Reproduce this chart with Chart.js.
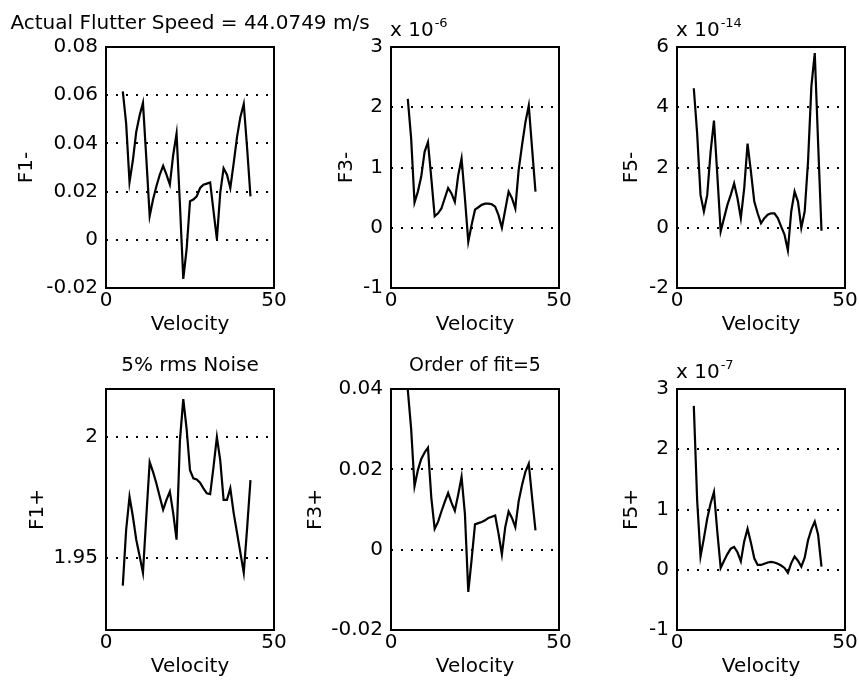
<!DOCTYPE html>
<html>
<head>
<meta charset="utf-8">
<script src="https://cdn.jsdelivr.net/npm/chart.js@4.4.1/dist/chart.umd.min.js"></script>
<style>
    body { margin: 0; background: #fff; }
    #page { position: relative; width: 859px; height: 683px; overflow: hidden; background: #fff; }
    #page canvas { position: absolute; }
</style>
</head>
<body>
<div id="page"></div>
<script>
// velocity (m/s) shared by all six plots
var velocity = [5, 6, 7, 8, 9, 10, 11, 12, 13, 14, 15, 16, 17, 18, 19, 20, 21, 22, 23, 24,
    25, 26, 27, 28, 29, 30, 31, 32, 33, 34, 35, 36, 37, 38, 39, 40, 41, 42, 43];

var f1Minus = [0.0616, 0.0482, 0.024, 0.033, 0.0448, 0.0516, 0.0568, 0.0338, 0.0099, 0.0167,
    0.0222, 0.027, 0.0307, 0.027, 0.0229, 0.0352, 0.0441, 0.0147, -0.0162, -0.0038,
    0.016, 0.0167, 0.018, 0.0215, 0.0229, 0.0233, 0.0238, 0.0119, 0.0003, 0.0195,
    0.0297, 0.027, 0.0215, 0.0318, 0.0427, 0.051, 0.0564, 0.038, 0.018];

// x 10^-6
var f3Minus = [2.14, 1.48, 0.42, 0.6, 0.85, 1.26, 1.42, 0.82, 0.19, 0.24,
    0.32, 0.49, 0.66, 0.57, 0.43, 0.87, 1.15, 0.49, -0.23, 0.05,
    0.3, 0.34, 0.38, 0.4, 0.4, 0.39, 0.35, 0.21, 0.0, 0.3,
    0.6, 0.49, 0.32, 0.96, 1.37, 1.75, 2.03, 1.31, 0.6];

// x 10^-14
var f5Minus = [4.63, 3.12, 1.09, 0.54, 1.09, 2.52, 3.56, 1.75, -0.12, 0.32,
    0.76, 1.09, 1.47, 0.98, 0.32, 1.31, 2.79, 1.86, 0.87, 0.48,
    0.15, 0.32, 0.43, 0.48, 0.48, 0.32, 0.04, -0.23, -0.75, 0.54,
    1.2, 0.87, 0.0, 0.54, 2.2, 4.7, 5.8, 2.8, -0.1];

var f1Plus = [1.9384, 1.9616, 1.9753, 1.9671, 1.9575, 1.9507, 1.9438, 1.9671, 1.9897, 1.9856,
    1.9808, 1.9753, 1.9699, 1.974, 1.9774, 1.9685, 1.9575, 1.9986, 2.0158, 2.0034,
    1.9863, 1.9829, 1.9825, 1.9811, 1.9788, 1.9767, 1.9764, 1.9877, 2.0, 1.9904,
    1.974, 1.974, 1.9788, 1.9685, 1.9603, 1.952, 1.9438, 1.9623, 1.9822];

var f3Plus = [0.0398, 0.030, 0.0158, 0.0198, 0.0226, 0.0242, 0.0254, 0.0129, 0.0052, 0.0069,
    0.0095, 0.0119, 0.0141, 0.0117, 0.0097, 0.0137, 0.0181, 0.0089, -0.0105, -0.0024,
    0.0063, 0.0066, 0.0069, 0.0073, 0.0079, 0.0082, 0.0085, 0.0040, -0.0012, 0.0056,
    0.0095, 0.0079, 0.0056, 0.0121, 0.0161, 0.0194, 0.0214, 0.0129, 0.0048];

// x 10^-7
var f5Plus = [2.72, 1.15, 0.22, 0.52, 0.85, 1.1, 1.29, 0.63, 0.03, 0.15,
    0.26, 0.35, 0.38, 0.29, 0.14, 0.47, 0.68, 0.45, 0.19, 0.08,
    0.08, 0.1, 0.12, 0.13, 0.12, 0.1, 0.07, 0.03, -0.05, 0.11,
    0.22, 0.15, 0.05, 0.2, 0.49, 0.67, 0.8, 0.58, 0.05];

// tick labels
var xTicks = [0, 50];
var f1MinusTicks = [-0.02, 0, 0.02, 0.04, 0.06, 0.08];
var f3MinusTicks = [-1, 0, 1, 2, 3];
var f5MinusTicks = [-2, 0, 2, 4, 6];
var f1PlusTicks = [1.95, 2];
var f3PlusTicks = [-0.02, 0, 0.02, 0.04];
var f5PlusTicks = [-1, 0, 1, 2, 3];

var FONT = '"DejaVu Sans", sans-serif';
Chart.defaults.font.family = FONT;
Chart.defaults.font.size = 20;
Chart.defaults.color = '#000';

// black frame round each plot area
var boxPlugin = {
    id: 'boxFrame',
    afterDraw: function (chart) {
        var a = chart.chartArea;
        var ctx = chart.ctx;
        ctx.save();
        ctx.strokeStyle = '#000';
        ctx.lineWidth = 2;
        ctx.strokeRect(a.left, a.top, a.right - a.left, a.bottom - a.top);
        ctx.restore();
    }
};

// title above the plot and the "x 10^n" multiplier
var panelText = {
    id: 'panelText',
    afterDraw: function (chart, args, opts) {
        var a = chart.chartArea;
        var ctx = chart.ctx;
        ctx.save();
        ctx.fillStyle = '#000';
        ctx.textBaseline = 'alphabetic';
        if (opts.title) {
            ctx.font = opts.titleSize + 'px ' + FONT;
            ctx.textAlign = 'center';
            ctx.fillText(opts.title, (a.left + a.right) / 2, a.top - 18);
        }
        if (opts.exponent) {
            ctx.font = '20px ' + FONT;
            ctx.textAlign = 'left';
            var base = 'x 10';
            ctx.fillText(base, a.left - 1, a.top - 11);
            var w = ctx.measureText(base).width;
            ctx.font = '13px ' + FONT;
            ctx.fillText(opts.exponent, a.left + w, a.top - 20);
        }
        ctx.restore();
    }
};

var panels = [
    { values: f1Minus, ticks: f1MinusTicks, yMin: -0.02, yMax: 0.08, yLabel: 'F1-', labelPad: 15,
      title: 'Actual Flutter Speed = 44.0749 m/s', titleSize: 20, exponent: null, left: 0, top: 0, height: 341, padTop: 47, padRight: 120 },
    { values: f3Minus, ticks: f3MinusTicks, yMin: -1, yMax: 3, yLabel: 'F3-', labelPad: 50,
      title: null, exponent: '-6', left: 285, top: 0, height: 341, padTop: 47, padRight: 14 },
    { values: f5Minus, ticks: f5MinusTicks, yMin: -2, yMax: 6, yLabel: 'F5-', labelPad: 49,
      title: null, exponent: '-14', left: 571, top: 0, height: 341, padTop: 47, padRight: 14 },
    { values: f1Plus, ticks: f1PlusTicks, yMin: 1.92, yMax: 2.02, yLabel: 'F1+', labelPad: 26,
      title: '5% rms Noise', titleSize: 20, exponent: null, left: 0, top: 341, height: 342, padTop: 48, padRight: 14 },
    { values: f3Plus, ticks: f3PlusTicks, yMin: -0.02, yMax: 0.04, yLabel: 'F3+', labelPad: 19,
      title: 'Order of fit=5', titleSize: 19, exponent: null, left: 285, top: 341, height: 342, padTop: 48, padRight: 14 },
    { values: f5Plus, ticks: f5PlusTicks, yMin: -1, yMax: 3, yLabel: 'F5+', labelPad: 49,
      title: null, exponent: '-7', left: 571, top: 341, height: 342, padTop: 48, padRight: 14 }
];

function drawPanel(p) {
    var canvas = document.createElement('canvas');
    var width = 106 + 168 + p.padRight;
    canvas.width = width;
    canvas.height = p.height;
    canvas.style.left = p.left + 'px';
    canvas.style.top = p.top + 'px';
    canvas.style.width = width + 'px';
    canvas.style.height = p.height + 'px';
    document.getElementById('page').appendChild(canvas);

    var points = velocity.map(function (v, i) {
        return { x: v, y: p.values[i] };
    });

    new Chart(canvas, {
        type: 'line',
        data: {
            datasets: [{
                data: points,
                borderColor: '#000',
                borderWidth: 2.2,
                pointRadius: 0,
                tension: 0,
                fill: false
            }]
        },
        options: {
            responsive: false,
            animation: false,
            layout: { padding: { top: p.padTop, right: p.padRight, bottom: 1, left: 0 } },
            plugins: {
                legend: { display: false },
                tooltip: { enabled: false },
                panelText: { title: p.title, titleSize: p.titleSize, exponent: p.exponent }
            },
            scales: {
                x: {
                    type: 'linear',
                    min: 0,
                    max: 50,
                    afterBuildTicks: function (s) {
                        s.ticks = xTicks.map(function (v) { return { value: v }; });
                    },
                    afterFit: function (s) { s.height = 52; },
                    grid: { display: false, drawTicks: false },
                    border: { display: false },
                    ticks: { padding: 1, maxRotation: 0, autoSkip: false },
                    title: { display: true, text: 'Velocity', padding: { top: 0, bottom: 3 } }
                },
                y: {
                    type: 'linear',
                    min: p.yMin,
                    max: p.yMax,
                    afterBuildTicks: function (s) {
                        s.ticks = p.ticks.map(function (v) { return { value: v }; });
                    },
                    afterFit: function (s) { s.width = 106; },
                    grid: {
                        drawTicks: false,
                        lineWidth: 2,
                        color: function (c) {
                            if (c.tick && (c.tick.value === p.yMin || c.tick.value === p.yMax)) {
                                return 'rgba(0,0,0,0)';
                            }
                            return '#000';
                        }
                    },
                    border: { display: false, dash: [2, 8] },
                    ticks: {
                        padding: 8,
                        autoSkip: false,
                        callback: function (v) { return String(v); }
                    },
                    title: { display: true, text: p.yLabel, padding: { top: p.labelPad, bottom: 0 } }
                }
            }
        },
        plugins: [boxPlugin, panelText]
    });
}

panels.forEach(drawPanel);
</script>
</body>
</html>
